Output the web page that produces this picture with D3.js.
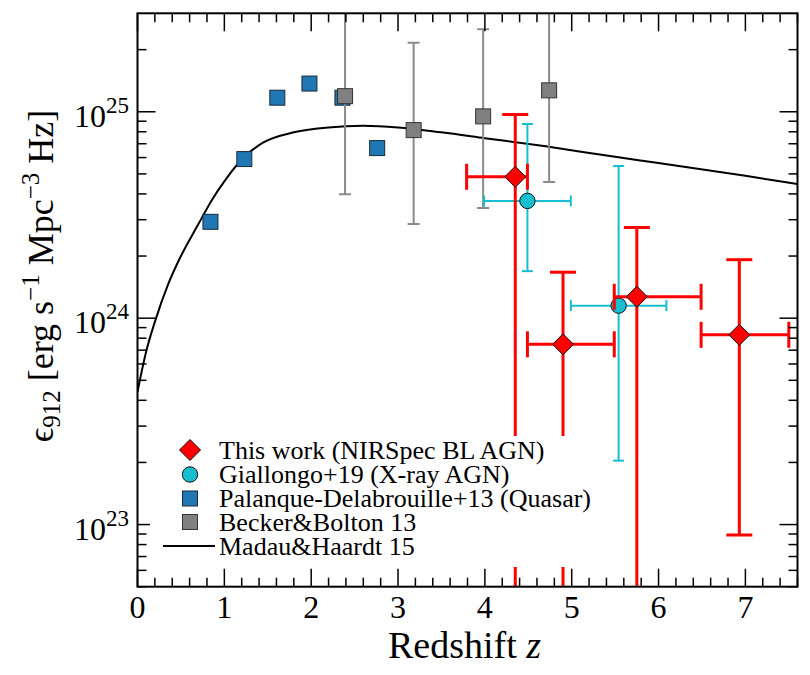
<!DOCTYPE html>
<html><head><meta charset="utf-8">
<script src="https://cdn.jsdelivr.net/npm/d3@7"></script>
<style>body{margin:0;background:#fff;}</style>
</head><body>
<svg id="chart" width="810" height="675" font-family="'Liberation Serif', Tinos, 'Times New Roman', Times, 'Nimbus Roman', 'DejaVu Serif', 'Noto Serif', serif"></svg>
<script>
// ---- data ----
const zTicks = [0,1,2,3,4,5,6,7];
const yTickExps = [23,24,25];

// Madau & Haardt 15 curve
const mhZ   = [0,0.1,0.2,0.35,0.5,0.7,0.85,1.0,1.23,1.45,1.8,2.2,2.6,3.0,3.5,4.0,4.7,5.5,6.0,7.0,7.6];
const mhEps = [4.4e23,6.9e23,9.6e23,1.45e24,2.0e24,2.85e24,3.7e24,4.6e24,6.05e24,7.1e24,7.95e24,8.4e24,8.55e24,8.4e24,7.95e24,7.45e24,6.8e24,6.05e24,5.65e24,4.9e24,4.46e24];

// Palanque-Delabrouille+13
const palZ   = [0.84,1.23,1.61,1.98,2.36,2.76];
const palEps = [2.93e24,5.9e24,1.17e25,1.37e25,1.17e25,6.67e24];

// Becker & Bolton 13
const bbZ   = [2.39,3.18,3.98,4.74];
const bbEps = [1.19e25,8.15e24,9.5e24,1.27e25];
const bbLo  = [3.99e24,2.86e24,3.42e24,4.57e24];
const bbHi  = [5e25,2.16e25,2.51e25,5e25];

// Giallongo+19
const gZ    = [4.49,5.54];
const gEps  = [3.7e24,1.15e24];
const gZlo  = [3.99,4.99];
const gZhi  = [4.99,6.09];
const gLo   = [1.69e24,2.04e23];
const gHi   = [8.73e24,5.46e24];

// This work
const twZ   = [4.35,4.90,5.75,6.93];
const twEps = [4.84e24,7.47e23,1.27e24,8.3e23];
const twZlo = [3.79,4.49,5.49,6.49];
const twZhi = [4.49,5.49,6.49,7.50];
const twLo  = [1e21,1e21,1e21,8.9e22];
const twHi  = [9.7e24,1.67e24,2.75e24,1.92e24];

const legendLabels = ["This work (NIRSpec BL AGN)","Giallongo+19 (X-ray AGN)","Palanque-Delabrouille+13 (Quasar)","Becker&Bolton 13","Madau&Haardt 15"];

// ---- layout ----
const L=137.5, R=797.5, T=13.3, B=586.7;
const svg = d3.select("#chart");
const x = d3.scaleLinear().domain([0,7.6]).range([L,R]);
const y = d3.scaleLog().domain([5e22,3e25]).range([B,T]);

svg.append("defs").append("clipPath").attr("id","clip")
  .append("rect").attr("x",L).attr("y",T).attr("width",R-L).attr("height",B-T);

const plot = svg.append("g").attr("clip-path","url(#clip)");

// curve
const mh = mhZ.map((z,i)=>[z,mhEps[i]]);
plot.append("path").datum(mh)
  .attr("d", d3.line().x(d=>x(d[0])).y(d=>y(d[1])).curve(d3.curveMonotoneX))
  .attr("fill","none").attr("stroke","#000").attr("stroke-width",2);

// Palanque squares
const sq = 15;
plot.selectAll(".pal").data(palZ).join("rect")
  .attr("x",(d)=>x(d)-sq/2).attr("y",(d,i)=>y(palEps[i])-sq/2)
  .attr("width",sq).attr("height",sq)
  .attr("fill","#1f77b4").attr("stroke","#1a2a3a").attr("stroke-width",1);

// Becker & Bolton
const bbCol="#8a8a8a";
bbZ.forEach((z,i)=>{
  const g=plot.append("g").attr("stroke",bbCol).attr("stroke-width",2);
  g.append("line").attr("x1",x(z)).attr("x2",x(z)).attr("y1",y(bbLo[i])).attr("y2",y(bbHi[i]));
  [bbLo[i],bbHi[i]].forEach(v=>g.append("line").attr("x1",x(z)-6).attr("x2",x(z)+6).attr("y1",y(v)).attr("y2",y(v)));
});
plot.selectAll(".bb").data(bbZ).join("rect")
  .attr("x",d=>x(d)-sq/2).attr("y",(d,i)=>y(bbEps[i])-sq/2)
  .attr("width",sq).attr("height",sq)
  .attr("fill","#808080").attr("stroke","#333").attr("stroke-width",1);

// Giallongo
const gCol="#17becf";
gZ.forEach((z,i)=>{
  const g=plot.append("g").attr("stroke",gCol).attr("stroke-width",2);
  g.append("line").attr("x1",x(z)).attr("x2",x(z)).attr("y1",y(gLo[i])).attr("y2",y(gHi[i]));
  [gLo[i],gHi[i]].forEach(v=>g.append("line").attr("x1",x(z)-5.5).attr("x2",x(z)+5.5).attr("y1",y(v)).attr("y2",y(v)));
  g.append("line").attr("x1",x(gZlo[i])).attr("x2",x(gZhi[i])).attr("y1",y(gEps[i])).attr("y2",y(gEps[i]));
  [gZlo[i],gZhi[i]].forEach(v=>g.append("line").attr("x1",x(v)).attr("x2",x(v)).attr("y1",y(gEps[i])-5.5).attr("y2",y(gEps[i])+5.5));
});
plot.selectAll(".gi").data(gZ).join("circle")
  .attr("cx",d=>x(d)).attr("cy",(d,i)=>y(gEps[i])).attr("r",7.7)
  .attr("fill",gCol).attr("stroke","#111").attr("stroke-width",1);

// This work
const tCol="#ff0000", cap=13;
twZ.forEach((z,i)=>{
  const g=plot.append("g").attr("stroke",tCol).attr("stroke-width",3);
  g.append("line").attr("x1",x(z)).attr("x2",x(z)).attr("y1",y(twLo[i])).attr("y2",y(twHi[i]));
  [twLo[i],twHi[i]].forEach(v=>g.append("line").attr("x1",x(z)-cap).attr("x2",x(z)+cap).attr("y1",y(v)).attr("y2",y(v)));
  g.append("line").attr("x1",x(twZlo[i])).attr("x2",x(twZhi[i])).attr("y1",y(twEps[i])).attr("y2",y(twEps[i]));
  [twZlo[i],twZhi[i]].forEach(v=>g.append("line").attr("x1",x(v)).attr("x2",x(v)).attr("y1",y(twEps[i])-cap).attr("y2",y(twEps[i])+cap));
});
const dm=10.5;
const diamond = (cx,cy)=>`M${cx},${cy-dm}L${cx+dm},${cy}L${cx},${cy+dm}L${cx-dm},${cy}Z`;
plot.selectAll(".tw").data(twZ).join("path")
  .attr("d",(d,i)=>diamond(x(d),y(twEps[i])))
  .attr("fill",tCol).attr("stroke","#111").attr("stroke-width",1);

// ---- axes ----
const ax = svg.append("g").attr("stroke","#000").attr("stroke-width",1.5);
const xMinor = d3.range(0,7.61,0.2).map(v=>Math.round(v*10)/10);
xMinor.forEach(v=>{
  const major = Math.abs(v-Math.round(v))<1e-6;
  const len = major?18:9;
  ax.append("line").attr("x1",x(v)).attr("x2",x(v)).attr("y1",B).attr("y2",B-len);
  ax.append("line").attr("x1",x(v)).attr("x2",x(v)).attr("y1",T).attr("y2",T+len);
});
const yTicksAll = y.ticks();
yTicksAll.forEach(v=>{
  const lg=Math.log10(v);
  const major=Math.abs(lg-Math.round(lg))<1e-6;
  const len = major?18:9;
  ax.append("line").attr("x1",L).attr("x2",L+len).attr("y1",y(v)).attr("y2",y(v));
  ax.append("line").attr("x1",R).attr("x2",R-len).attr("y1",y(v)).attr("y2",y(v));
});
svg.append("rect").attr("x",L).attr("y",T).attr("width",R-L).attr("height",B-T)
  .attr("fill","none").attr("stroke","#000").attr("stroke-width",2);

// x tick labels
svg.selectAll(".xt").data(zTicks).join("text")
  .attr("x",d=>x(d)).attr("y",618).attr("text-anchor","middle")
  .attr("font-size",32).attr("fill","#000").text(d=>d);

// y tick labels
yTickExps.forEach(e=>{
  const t=svg.append("text").attr("x",129).attr("y",y(Math.pow(10,e))+15)
    .attr("text-anchor","end").attr("font-size",32).attr("fill","#000");
  t.append("tspan").text("10");
  t.append("tspan").attr("font-size",23).attr("dy",-14).text(e);
});

// axis titles
const xt=svg.append("text").attr("x",(L+R)/2-3).attr("y",658).attr("text-anchor","middle")
  .attr("font-size",38).attr("fill","#000");
xt.append("tspan").text("Redshift ");
xt.append("tspan").attr("font-style","italic").text("z");

const yt=svg.append("text").attr("transform","translate(53,276) rotate(-90)")
  .attr("text-anchor","middle").attr("font-size",36).attr("fill","#000");
yt.append("tspan").text("\u03F5");
yt.append("tspan").attr("font-size",25).attr("dy",7).text("912");
yt.append("tspan").attr("dy",-7).text(" [erg s");
yt.append("tspan").attr("font-size",25).attr("dy",-14).text("\u22121");
yt.append("tspan").attr("dy",14).text(" Mpc");
yt.append("tspan").attr("font-size",25).attr("dy",-14).text("\u22123");
yt.append("tspan").attr("dy",14).text(" Hz]");

// ---- legend ----
const lg = svg.append("g");
lg.append("rect").attr("x",150).attr("y",436).attr("width",447).attr("height",131).attr("fill","#fff");
const rows=[450,474.5,498.5,522,546];
const mx=190, tx=219;
lg.append("path").attr("d",diamond(mx,rows[0])).attr("fill",tCol).attr("stroke","#111").attr("stroke-width",1);
lg.append("circle").attr("cx",mx).attr("cy",rows[1]).attr("r",7.7).attr("fill",gCol).attr("stroke","#111").attr("stroke-width",1);
lg.append("rect").attr("x",mx-sq/2).attr("y",rows[2]-sq/2).attr("width",sq).attr("height",sq).attr("fill","#1f77b4").attr("stroke","#1a2a3a").attr("stroke-width",1);
lg.append("rect").attr("x",mx-sq/2).attr("y",rows[3]-sq/2).attr("width",sq).attr("height",sq).attr("fill","#808080").attr("stroke","#333").attr("stroke-width",1);
lg.append("line").attr("x1",163).attr("x2",215).attr("y1",rows[4]).attr("y2",rows[4]).attr("stroke","#000").attr("stroke-width",2);
lg.selectAll(".lt").data(legendLabels).join("text")
  .attr("x",tx).attr("y",(d,i)=>rows[i]+8.5).attr("font-size",26).attr("fill","#000").text(d=>d);
</script>
</body></html>
